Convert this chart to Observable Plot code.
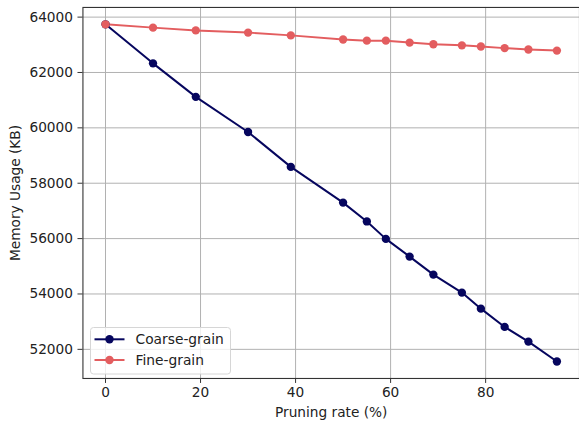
<!DOCTYPE html>
<html>
<head>
<meta charset="utf-8">
<script src="https://cdn.jsdelivr.net/npm/d3@7"></script>
<script src="https://cdn.jsdelivr.net/npm/@observablehq/plot@0.6"></script>
<style>
  html, body { margin: 0; padding: 0; background: #fff; overflow: hidden; }
  #wrap { position: relative; width: 579px; height: 426px; overflow: hidden; }
  #wrap svg { font-family: "DejaVu Sans", sans-serif; }
</style>
</head>
<body>
<div id="wrap"></div>
<script>
const pruningRate = [0, 10, 19, 30, 39, 50, 55, 59, 64, 69, 75, 79, 84, 89, 95];
const coarseGrain = [63740, 62330, 61120, 59850, 58590, 57300, 56620, 55990, 55350, 54700, 54050, 53470, 52810, 52280, 51560];
const fineGrain   = [63740, 63620, 63520, 63440, 63340, 63190, 63150, 63150, 63080, 63020, 62980, 62940, 62880, 62830, 62790];
const seriesNames = ["Coarse-grain", "Fine-grain"];
const seriesColors = ["#06065e", "#e35d5f"];
const xTicks = [0, 20, 40, 60, 80];
const yTicks = [52000, 54000, 56000, 58000, 60000, 62000, 64000];
const xLabel = "Pruning rate (%)";
const yLabel = "Memory Usage (KB)";

const rows = [];
pruningRate.forEach((p, i) => rows.push({series: seriesNames[0], x: p, y: coarseGrain[i]}));
pruningRate.forEach((p, i) => rows.push({series: seriesNames[1], x: p, y: fineGrain[i]}));

const fontSize = 13.8;
const chart = Plot.plot({
  width: 583,
  height: 426,
  marginLeft: 83,
  marginTop: 7,
  marginBottom: 45.4,
  marginRight: 0,
  style: {fontFamily: "DejaVu Sans, sans-serif", fontSize: fontSize + "px", color: "#222", background: "#fff"},
  x: {domain: [-4.75, 99.75]},
  y: {domain: [50948, 64349]},
  color: {domain: seriesNames, range: seriesColors},
  marks: [
    Plot.gridX(xTicks, {stroke: "#b0b0b0", strokeOpacity: 1, strokeWidth: 1}),
    Plot.gridY(yTicks, {stroke: "#b0b0b0", strokeOpacity: 1, strokeWidth: 1}),
    Plot.frame({stroke: "#333", strokeWidth: 1.1}),
    Plot.axisX(xTicks, {tickSize: 5, tickPadding: 4, label: null, fontSize: fontSize, stroke: "#333"}),
    Plot.axisY(yTicks, {tickSize: 5, tickPadding: 5, label: null, fontSize: fontSize, tickFormat: d => String(d), stroke: "#333"}),
    Plot.text([xLabel], {frameAnchor: "bottom", lineAnchor: "middle", textAnchor: "middle", dy: 34.5, fontSize: fontSize, fill: "#222"}),
    Plot.text([yLabel], {frameAnchor: "left", lineAnchor: "middle", textAnchor: "middle", dx: -68, rotate: -90, fontSize: fontSize, fill: "#222"}),
    Plot.line(rows, {x: "x", y: "y", z: "series", stroke: "series", strokeWidth: 2}),
    Plot.dot(rows, {x: "x", y: "y", fill: "series", r: 4.2})
  ]
});
const wrap = document.getElementById("wrap");
wrap.appendChild(chart);

// Legend overlay
const lg = d3.select(wrap).append("svg")
  .attr("width", 142).attr("height", 48)
  .style("position", "absolute").style("left", "89.5px").style("top", "327px")
  .style("font-family", "DejaVu Sans, sans-serif");
lg.append("rect").attr("x", 0.5).attr("y", 0.5).attr("width", 140).attr("height", 46.5)
  .attr("rx", 3).attr("fill", "rgba(255,255,255,0.8)").attr("stroke", "#d6d6d6");
seriesNames.forEach((name, i) => {
  const cy = 12.3 + i * 20.7;
  lg.append("line").attr("x1", 4.5).attr("x2", 34.5).attr("y1", cy).attr("y2", cy)
    .attr("stroke", seriesColors[i]).attr("stroke-width", 2);
  lg.append("circle").attr("cx", 19.5).attr("cy", cy).attr("r", 4.2).attr("fill", seriesColors[i]);
  lg.append("text").attr("x", 45.5).attr("y", cy).attr("dy", "0.35em")
    .attr("font-size", fontSize).attr("fill", "#222").text(name);
});
</script>
</body>
</html>
